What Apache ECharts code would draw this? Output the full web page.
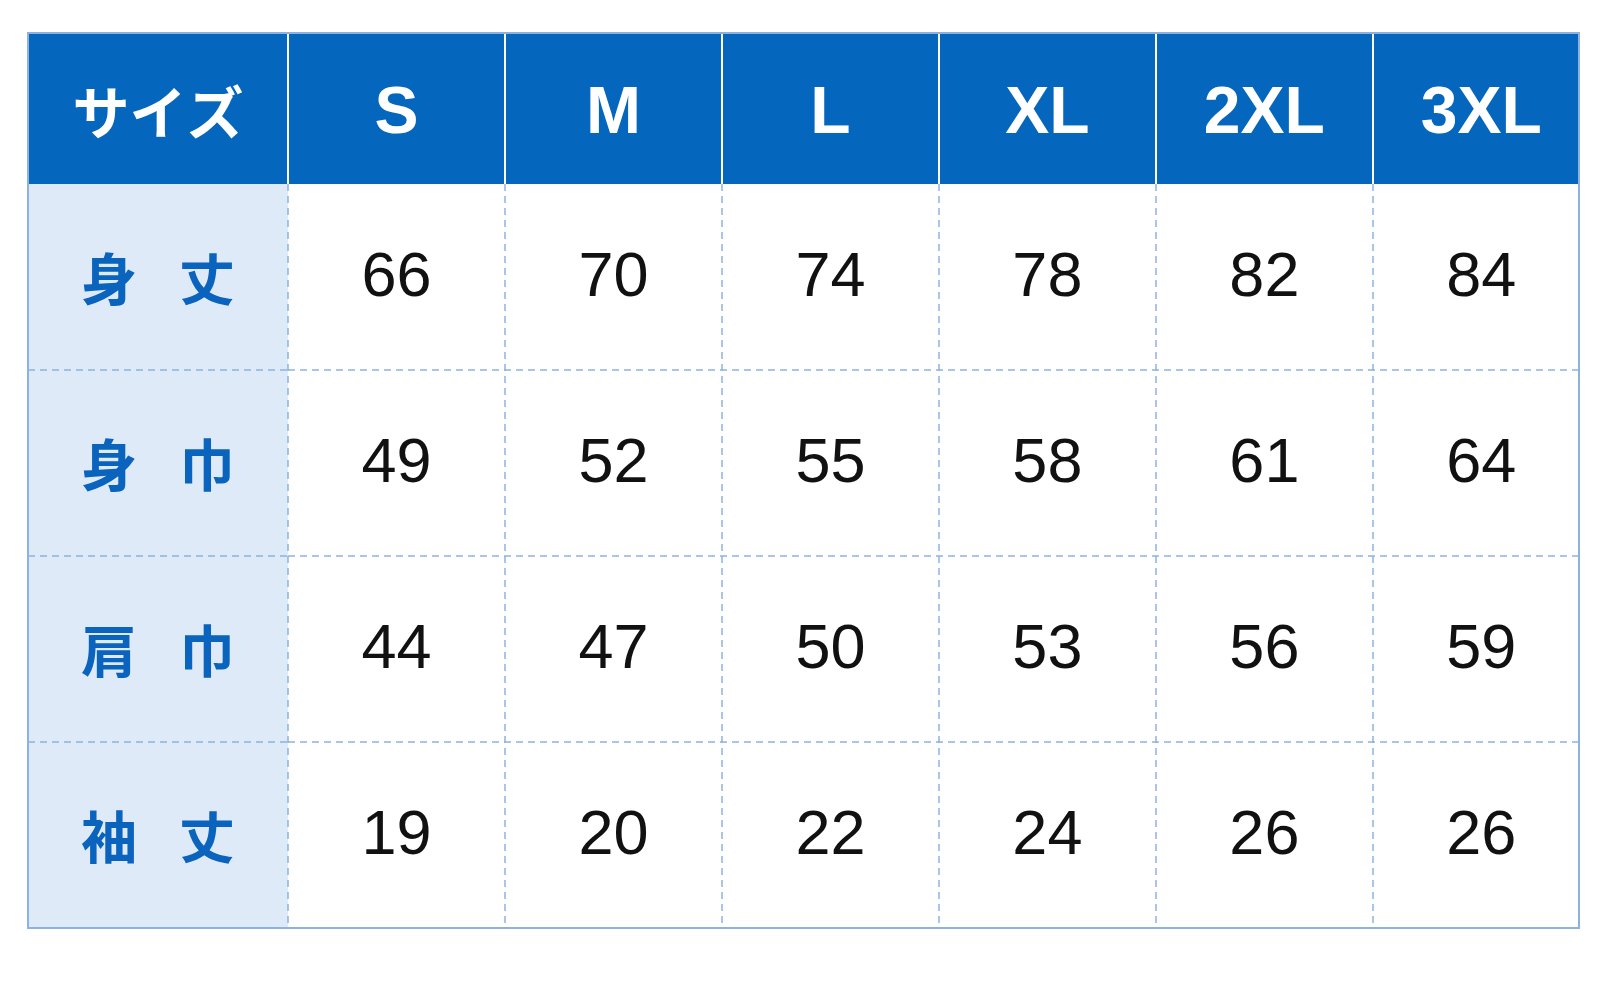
<!DOCTYPE html>
<html>
<head>
<meta charset="utf-8">
<script src="https://cdn.jsdelivr.net/npm/echarts@6/dist/echarts.min.js"></script>
<style>
html,body{margin:0;padding:0;background:#fff;}
#chart{width:1602px;height:982px;}
</style>
</head>
<body>
<div id="chart"></div>
<script>
const headerLabel = 'サイズ';
const sizes = ['S', 'M', 'L', 'XL', '2XL', '3XL'];
const rowNames = ['身　丈', '身　巾', '肩　巾', '袖　丈'];
const bodyLength = [66, 70, 74, 78, 82, 84];
const bodyWidth = [49, 52, 55, 58, 61, 64];
const shoulderWidth = [44, 47, 50, 53, 56, 59];
const sleeveLength = [19, 20, 22, 24, 26, 26];
const rows = [bodyLength, bodyWidth, shoulderWidth, sleeveLength];

const BLUE = '#0566BE';
const LIGHT = '#DEEAF8';
const LINE = '#8DB2DF';
const dashed = { color: LINE, width: 1.5, type: [7, 5] };

const chart = echarts.init(document.getElementById('chart'));

function hiddenCat(data, gridIndex, extra) {
  return Object.assign({
    type: 'category', data: data, gridIndex: gridIndex,
    axisLine: { show: false }, axisTick: { show: false }, axisLabel: { show: false },
    splitLine: { show: false }
  }, extra || {});
}
// size columns: value axis, column i spans [i, i+1]; the last column is slightly narrower
function sizeAxis(gridIndex, lineStyle) {
  return {
    type: 'value', gridIndex: gridIndex, min: 0, max: sizes.length - 0.05, interval: 1,
    axisLine: { show: false }, axisTick: { show: false }, axisLabel: { show: false },
    splitLine: { show: true, showMinLine: true, showMaxLine: false, lineStyle: lineStyle }
  };
}

const bodyData = [];
rows.forEach((r, j) => r.forEach((v, i) => bodyData.push([i + 0.5, j, v])));

function textItem(text, style, dy) {
  return function (params, api) {
    const p = api.coord([api.value(0), api.value(1)]);
    return {
      type: 'text', x: p[0], y: p[1] + (dy || 0),
      style: Object.assign({ text: text(params), align: 'center', verticalAlign: 'middle' }, style)
    };
  };
}

chart.setOption({
  animation: false,
  grid: [
    { left: 28, top: 33, width: 260, height: 151, show: true, backgroundColor: BLUE, borderWidth: 0 },
    { left: 288, top: 33, right: 23, height: 151, show: true, backgroundColor: BLUE, borderWidth: 0 },
    { left: 28, top: 184, width: 260, bottom: 54, show: true, backgroundColor: LIGHT, borderWidth: 0 },
    { left: 288, top: 184, right: 23, bottom: 54, show: false },
    { left: 28, top: 33, right: 23, bottom: 54, show: true, backgroundColor: 'transparent', borderColor: LINE, borderWidth: 2, z: 5 }
  ],
  xAxis: [
    hiddenCat([headerLabel], 0),
    sizeAxis(1, { color: '#ffffff', width: 2 }),
    hiddenCat(['label'], 2),
    sizeAxis(3, dashed),
    hiddenCat([''], 4)
  ],
  yAxis: [
    hiddenCat(['h'], 0),
    hiddenCat(['h'], 1),
    hiddenCat(rowNames, 2, { inverse: true, splitLine: { show: true, showMinLine: false, showMaxLine: false, lineStyle: dashed } }),
    hiddenCat(rowNames, 3, { inverse: true, splitLine: { show: true, showMinLine: false, showMaxLine: false, lineStyle: dashed } }),
    hiddenCat([''], 4)
  ],
  series: [
    {
      type: 'custom', xAxisIndex: 0, yAxisIndex: 0, data: [[0, 0]],
      renderItem: textItem(() => headerLabel, {
        fill: '#ffffff', font: 'bold 57px "Noto Sans CJK JP"'
      }, 4)
    },
    {
      type: 'custom', xAxisIndex: 1, yAxisIndex: 1, data: sizes.map((s, i) => [i + 0.5, 0]),
      renderItem: textItem((p) => sizes[p.dataIndex], {
        fill: '#ffffff', font: 'bold 66px "Liberation Sans"'
      }, 6)
    },
    {
      type: 'custom', xAxisIndex: 2, yAxisIndex: 2, data: rowNames.map((s, j) => [0, j]),
      renderItem: function (params, api) {
        const p = api.coord([api.value(0), api.value(1)]);
        const chars = rowNames[params.dataIndex].split('　');
        return {
          type: 'text', x: p[0], y: p[1] + 2,
          style: {
            text: '{a|' + chars[0] + '}{s|　}{a|' + chars[1] + '}',
            align: 'center', verticalAlign: 'middle',
            rich: {
              a: { fill: '#0A63BD', fontWeight: 'bold', fontSize: 56, fontFamily: 'Noto Sans CJK JP' },
              s: { fontSize: 42, fontFamily: 'Noto Sans CJK JP' }
            }
          }
        };
      }
    },
    {
      type: 'custom', xAxisIndex: 3, yAxisIndex: 3, data: bodyData,
      renderItem: textItem((p) => String(bodyData[p.dataIndex][2]), {
        fill: '#111111', font: '63px "Liberation Sans"'
      }, 2)
    }
  ]
});
</script>
</body>
</html>
